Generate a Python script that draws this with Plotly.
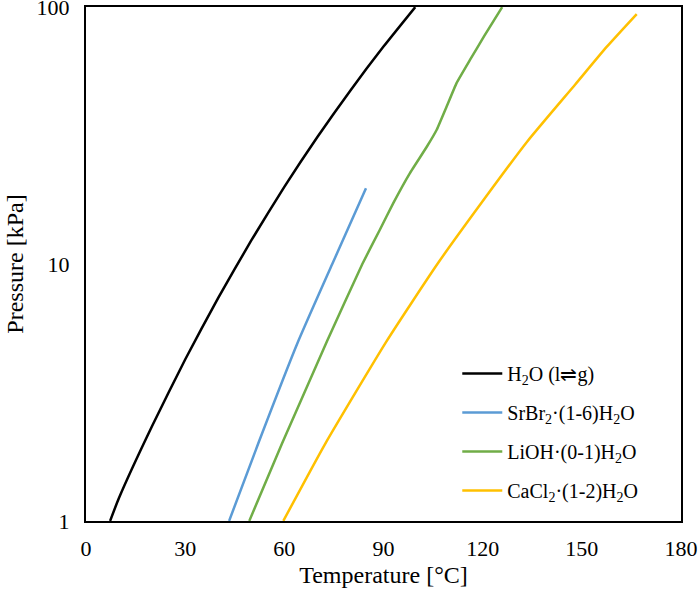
import plotly.graph_objects as go

# H2O (l<->g) saturation line
h2o_t = [7.3, 10, 20, 30, 40, 50, 60, 70, 80, 90, 99.6]
h2o_p = [1.0, 1.23, 2.34, 4.25, 7.38, 12.35, 19.95, 31.2, 47.4, 70.2, 100]

# SrBr2 (1-6)H2O
srbr_t = [43.3, 52.1, 64.2, 74.5, 84.7]
srbr_p = [1, 2, 5, 10, 19.7]

# LiOH (0-1)H2O
lioh_t = [49.4, 59.3, 72.9, 83.6, 88.9, 93.0, 98.0, 103.1, 106.1, 109.1, 112.1, 116.2, 120.4, 125.9]
lioh_p = [1, 2, 5, 10, 13.6, 17.3, 22.6, 28.6, 33.3, 41.0, 50.6, 62.4, 76.9, 100]

# CaCl2 (1-2)H2O
cacl_t = [59.7, 72.4, 90.9, 106.3, 119.2, 133.5, 148.0, 157.5, 166.6]
cacl_p = [1, 2, 5, 10, 17, 30, 50, 70, 94]

series = [
    ("H<sub>2</sub>O (l⇌g)", h2o_t, h2o_p, "#000000", 0.5),
    ("SrBr<sub>2</sub>·(1-6)H<sub>2</sub>O", srbr_t, srbr_p, "#5B9BD5", 0.5),
    ("LiOH·(0-1)H<sub>2</sub>O", lioh_t, lioh_p, "#70AD47", 0.3),
    ("CaCl<sub>2</sub>·(1-2)H<sub>2</sub>O", cacl_t, cacl_p, "#FFC000", 0.5),
]

FONT = "Liberation Serif, Times New Roman, serif"

fig = go.Figure()
for i, (name, t, p, col, sm) in enumerate(series):
    fig.add_trace(go.Scatter(
        x=t, y=p, name=name, mode="lines", legendgroup=f"g{i}",
        line=dict(color=col, width=2.5, shape="spline", smoothing=sm),
    ))

axis_common = dict(showline=True, mirror=True, linecolor="black", linewidth=2,
                   showgrid=False, zeroline=False, ticks="", automargin=False,
                   ticklabeloverflow="allow",
                   tickfont=dict(family=FONT, size=22, color="black"))

fig.update_xaxes(range=[0, 180], dtick=30, tick0=0, ticklabelstandoff=7,
                 title=dict(text="Temperature [°C]", font=dict(family=FONT, size=24, color="black"),
                            standoff=6),
                 **axis_common)
fig.update_yaxes(type="log", range=[-0.0005, 2.0005], tickvals=[1, 10, 100],
                 ticktext=["1", "10", "100"], ticklabelstandoff=10,
                 title=dict(text="Pressure [kPa]", font=dict(family=FONT, size=24, color="black"),
                            standoff=6),
                 **axis_common)

fig.update_layout(
    width=699, height=608,
    margin=dict(l=86, r=18, t=7, b=87),
    plot_bgcolor="white", paper_bgcolor="white",
    font=dict(family=FONT, color="black"),
    legend=dict(x=0.624, y=0.325, xanchor="left", yanchor="top",
                font=dict(family=FONT, size=20, color="black"),
                bgcolor="rgba(0,0,0,0)", tracegroupgap=10, itemwidth=40),
)

# page body margin would shift the whole figure by 8px
post = "document.body.style.margin='0';"
fig.write_html("out.html", post_script=post, config={"displayModeBar": False})
